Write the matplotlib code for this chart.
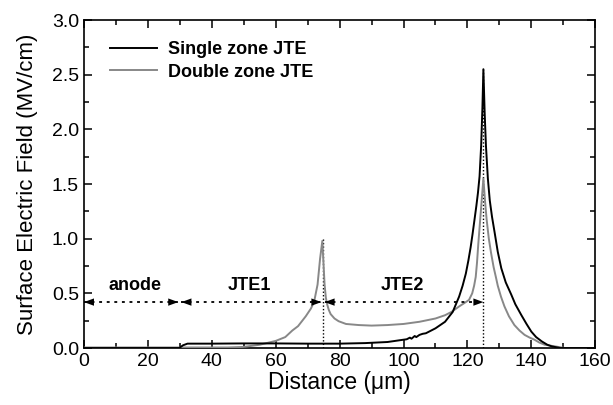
import matplotlib
matplotlib.use("Agg")
import matplotlib.pyplot as plt
from matplotlib.ticker import MultipleLocator

plt.rcParams['font.family'] = ['Liberation Sans', 'DejaVu Sans']

# Single zone JTE (black)
single_x = [0, 29.8, 31, 32.4, 40, 50, 60, 70, 80, 88, 95, 100, 101, 102, 102.5, 103.5, 104,
            105, 106, 107, 110, 113, 115.4, 117.4, 118.5, 119.5, 120.3, 121, 121.6, 122.2,
            122.8, 123.3, 123.8, 124.3, 124.7, 125,
            125.4, 125.8, 126.4, 127, 127.7, 128.5, 129.5, 130.6, 132, 133.7, 135, 136.9,
            138.5, 140, 141.5, 143.3, 145, 146.4, 149, 160]
single_y = [0, 0, 0.025, 0.04, 0.04, 0.042, 0.042, 0.04, 0.04, 0.045, 0.055, 0.076, 0.08, 0.095,
            0.085, 0.11, 0.10, 0.12, 0.13, 0.135, 0.18, 0.24, 0.33, 0.47, 0.57, 0.68, 0.80,
            0.92, 1.04, 1.17, 1.30, 1.42, 1.57, 1.85, 2.2, 2.55,
            2.15, 1.85, 1.55, 1.35, 1.2, 1.06, 0.88, 0.73, 0.60, 0.49, 0.40, 0.30,
            0.22, 0.15, 0.10, 0.06, 0.03, 0.015, 0, 0]

# Double zone JTE (gray)
double_x = [0, 45, 50, 55, 60, 63, 65.2, 67, 69.4, 71, 72, 73.1, 73.9, 74.6, 75.0, 75.3, 75.7,
            76.1, 76.6, 77.2, 78.4, 79.7, 82, 86, 90, 95, 100, 105, 110, 113, 115, 117.4,
            119.5, 120.5, 121.5, 122.1, 122.6, 123.0, 123.4, 123.8, 124.2, 124.6, 125,
            125.5, 126, 126.7, 127.4, 128.2, 128.9, 129.5, 130.5, 131.6, 133, 134.7, 136.3,
            137.9, 139.5, 141, 142.5, 144.2, 147.4, 150.5, 160]
double_y = [0.005, 0.005, 0.01, 0.03, 0.065, 0.1, 0.16, 0.2, 0.29, 0.36, 0.42, 0.58, 0.82, 0.98,
            0.75, 0.58, 0.46, 0.40, 0.35, 0.31, 0.27, 0.245, 0.22, 0.21, 0.205, 0.21, 0.22,
            0.24, 0.27, 0.30, 0.33, 0.38, 0.42, 0.44, 0.50, 0.57, 0.65, 0.78, 0.95, 1.1, 1.25,
            1.4, 1.55,
            1.35, 1.18, 1.0, 0.87, 0.74, 0.65, 0.57, 0.47, 0.38, 0.29, 0.21, 0.16,
            0.12, 0.095, 0.076, 0.05, 0.03, 0.015, 0, 0]

series_labels = ["Single zone JTE", "Double zone JTE"]
region_labels = ["anode", "JTE1", "JTE2"]
region_bounds = [(0, 30), (30, 74.8), (74.8, 125)]
region_text_x = [16.0, 51.7, 99.5]
boundary_x = [74.8, 125]
boundary_top = [1.0, 2.55]
arrow_y = 0.42

fig = plt.figure(figsize=(6.13, 4.05), dpi=100)
ax = fig.add_axes([0.1370, 0.1407, 0.971 - 0.1370, 0.9506 - 0.1407])

ax.plot(single_x, single_y, color='black', lw=1.4, label=series_labels[0], zorder=4)
ax.plot(double_x, double_y, color='#888888', lw=1.4, label=series_labels[1], zorder=3)

for bx, bt in zip(boundary_x, boundary_top):
    ax.plot([bx, bx], [0, bt], color='black', lw=1.0, linestyle=(0, (1, 1.5)), zorder=2)

for (a, b), lab, tx in zip(region_bounds, region_labels, region_text_x):
    a2 = a + (0.5 if a > 0 else 0)
    b2 = b - 0.5 if b < 120 else b
    ax.plot([a2, b2], [arrow_y, arrow_y], color='black', lw=1.3,
            linestyle=(0, (1.6, 2.6)), zorder=5)
    style = '-|>,head_length=0.6,head_width=0.22'
    ax.annotate('', xy=(a2, arrow_y), xytext=(a2 + 2.5, arrow_y),
                arrowprops=dict(arrowstyle=style, color='black', lw=0,
                                shrinkA=0, shrinkB=0, mutation_scale=12), zorder=6)
    ax.annotate('', xy=(b2, arrow_y), xytext=(b2 - 2.5, arrow_y),
                arrowprops=dict(arrowstyle=style, color='black', lw=0,
                                shrinkA=0, shrinkB=0, mutation_scale=12), zorder=6)
    ax.text(tx, 0.57, lab, fontsize=13, fontweight='bold', ha='center', va='center')

ax.set_xlim(0, 160)
ax.set_ylim(0, 3.0)
ax.xaxis.set_major_locator(MultipleLocator(20))
ax.xaxis.set_minor_locator(MultipleLocator(10))
ax.yaxis.set_major_locator(MultipleLocator(0.5))
ax.yaxis.set_minor_locator(MultipleLocator(0.25))
ax.yaxis.set_major_formatter(matplotlib.ticker.FormatStrFormatter('%.1f'))
ax.tick_params(which='both', direction='in', top=True, right=True, width=1.1,
               labelsize=14)
ax.tick_params(which='major', length=6)
ax.tick_params(which='minor', length=3.5)
for s in ax.spines.values():
    s.set_linewidth(1.2)

ax.set_xlabel('Distance (\u03bcm)', fontsize=16.5, labelpad=1)
ax.set_ylabel('Surface Electric Field (MV/cm)', fontsize=16, labelpad=10)

leg = ax.legend(loc='upper left', frameon=False, prop={'weight': 'bold', 'size': 13},
                handlelength=2.6, handletextpad=0.6, labelspacing=0.3,
                bbox_to_anchor=(0.02, 0.985))

fig.savefig('out.png', dpi=100)
